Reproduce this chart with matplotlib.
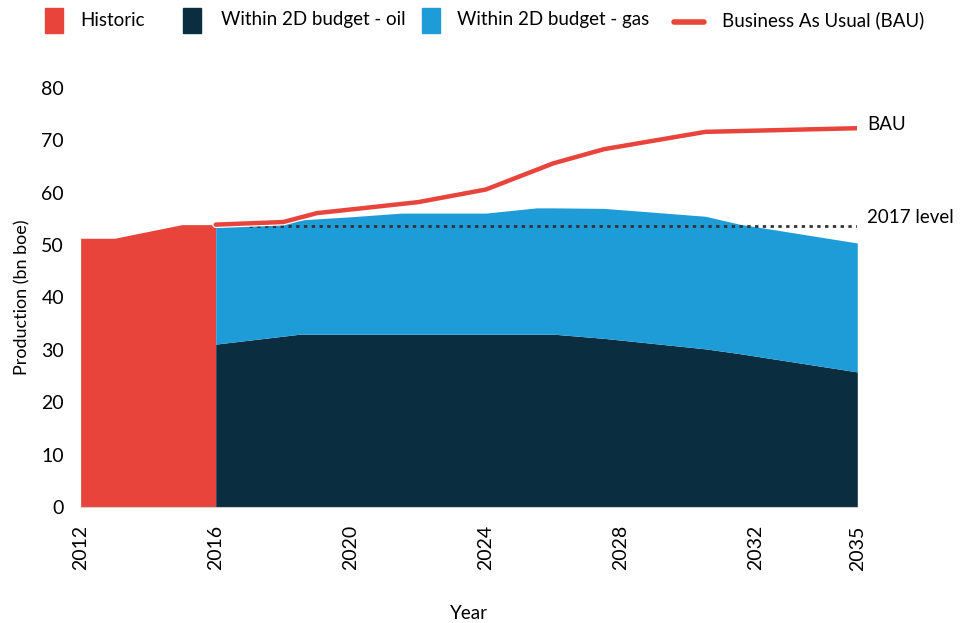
import matplotlib
matplotlib.use("Agg")
import matplotlib.pyplot as plt
from matplotlib.patches import Rectangle
from matplotlib.lines import Line2D
import numpy as np

# historic production
hist_years = [2012, 2013, 2015, 2016]
hist_prod = [51.3, 51.3, 53.9, 53.9]

# within 2 degree budget
budget_years = [2016, 2018.5, 2020, 2021.5, 2024, 2025.5, 2026, 2027.5, 2030.5, 2031.5, 2035]
oil = [31.1, 33.0, 33.0, 33.0, 33.0, 33.0, 33.0, 32.2, 30.2, 29.3, 25.8]
gas = [22.3, 21.8, 22.4, 23.1, 23.1, 24.1, 24.1, 24.8, 25.3, 24.7, 24.6]

# business as usual
bau_years = [2016, 2018, 2019, 2020.3, 2022, 2024, 2026, 2027.5, 2030.5, 2035]
bau = [53.9, 54.4, 56.1, 57.0, 58.2, 60.6, 65.6, 68.3, 71.6, 72.3]

level_2017 = 53.7
xticks = [2012, 2016, 2020, 2024, 2028, 2032, 2035]
yticks = [0, 10, 20, 30, 40, 50, 60, 70, 80]
legend_labels = ["Historic", "Within 2D budget - oil", "Within 2D budget - gas",
                 "Business As Usual (BAU)"]

RED = "#e8443b"
NAVY = "#0b2d40"
BLUE = "#1e9cd8"

plt.rcParams['font.family'] = ['Lato', 'DejaVu Sans']

W, H = 960, 623
fig = plt.figure(figsize=(9.6, 6.23), dpi=100)
ax = fig.add_axes([0.084, 0.186, 0.809, 0.673])

ax.fill_between(hist_years, 0, hist_prod, color=RED, linewidth=0)
oil_arr = np.array(oil)
tot = oil_arr + np.array(gas)
ax.fill_between(budget_years, 0, oil_arr, color=NAVY, linewidth=0)
ax.fill_between(budget_years, oil_arr, tot, color=BLUE, linewidth=0)

ax.plot([2017, 2035], [level_2017, level_2017], color="#333333", linestyle=(0, (1.2, 1.6)), linewidth=2)
ax.plot(bau_years, bau, color="white", linewidth=5, solid_capstyle="round")
ax.plot(bau_years, bau, color=RED, linewidth=3.2, solid_capstyle="round")

ax.text(2035.3, bau[-1] + 0.8, "BAU", fontsize=13.5, va="center", ha="left", clip_on=False)
ax.text(2035.3, level_2017 + 1.5, "2017 level", fontsize=13.5, va="center", ha="left", clip_on=False)

ax.set_xlim(2012, 2035)
ax.set_ylim(0, 80)
ax.set_xticks(xticks)
ax.set_xticklabels([str(t) for t in xticks], rotation=90, fontsize=14)
ax.set_yticks(yticks)
ax.set_yticklabels([str(t) for t in yticks], fontsize=14)
ax.tick_params(length=0, pad=12)
ax.tick_params(axis="x", pad=13)
for s in ["top", "right", "left"]:
    ax.spines[s].set_visible(False)
ax.spines["bottom"].set_color("#cccccc")
ax.spines["bottom"].set_linewidth(0.8)
ax.set_ylabel("Production (bn boe)", fontsize=13, labelpad=8)
ax.set_xlabel("Year", fontsize=13.5, labelpad=25)

# legend drawn by hand along the top
patch_x = [45, 183, 422]
text_x = [80, 221, 457, 722]
for px, c in zip(patch_x, [RED, NAVY, BLUE]):
    fig.patches.append(Rectangle((px / W, 1 - 33 / H), 18 / W, 25 / H,
                                 transform=fig.transFigure, color=c))
fig.lines.append(Line2D([674 / W, 704 / W], [1 - 22 / H, 1 - 22 / H],
                        transform=fig.transFigure, color=RED, linewidth=4,
                        solid_capstyle="round"))
for tx, lab in zip(text_x, legend_labels):
    fig.text(tx / W, 1 - 20 / H, lab, fontsize=13.5, va="center", ha="left")

fig.savefig("out.png", dpi=100)
